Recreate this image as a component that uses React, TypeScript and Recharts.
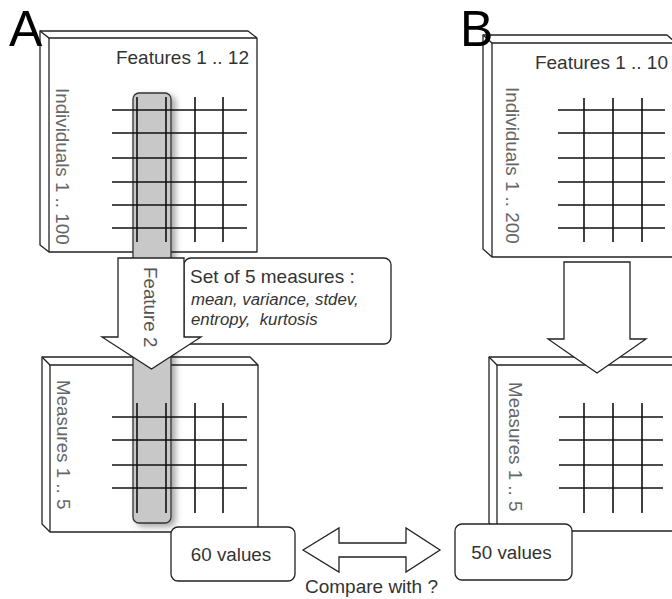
import React from 'react';
import { ComposedChart, XAxis, YAxis, ReferenceArea, ReferenceLine } from 'recharts';

const W = 672;
const H = 599;
const FONT = '"Liberation Sans", Arial, sans-serif';
const INK = '#222';

// what the figure says
const panelLetters = ['A', 'B'];
const featureCounts = [12, 10];
const individualCounts = [100, 200];
const measureCounts = [5, 5];
const measureNames = ['mean', 'variance', 'stdev', 'entropy', 'kurtosis'];
const valueCounts = [60, 50];
const chosenFeature = 2;

// grid rows / columns of the four matrices (reference pixels)
const topRows = [110, 133, 158, 182, 205, 228];
const bottomRows = [417, 440, 465, 488];
const colsA = [137, 166, 195, 223];
const colsB = [584, 613, 642];

const grids = [
  { rows: topRows, cols: colsA, xFrom: 112, xTo: 247, yFrom: 97, yTo: 242 },
  { rows: bottomRows, cols: colsA, xFrom: 112, xTo: 247, yFrom: 403, yTo: 513 },
  { rows: topRows, cols: colsB, xFrom: 558, xTo: 665, yFrom: 98, yTo: 242 },
  { rows: bottomRows, cols: colsB, xFrom: 559, xTo: 663, yFrom: 403, yTo: 513 },
];

// 3D boxes: back edge x1/y1, front face fx/fy, right x2, bottom y2
const panels = [
  { x1: 40, x2: 257, y1: 31, y2: 252, fx: 49, fy: 38, title: `Features 1 .. ${featureCounts[0]}`, side: `Individuals 1 .. ${individualCounts[0]}`, sx: 63, sy: 88 },
  { x1: 42, x2: 258, y1: 357, y2: 532, fx: 50, fy: 365, title: '', side: `Measures 1 .. ${measureCounts[0]}`, sx: 64, sy: 380 },
  { x1: 483, x2: 676, y1: 35, y2: 257, fx: 492, fy: 43, title: `Features 1 .. ${featureCounts[1]}`, side: `Individuals 1 .. ${individualCounts[1]}`, sx: 513, sy: 87 },
  { x1: 489, x2: 680, y1: 357, y2: 531, fx: 497, fy: 365, title: '', side: `Measures 1 .. ${measureCounts[1]}`, sx: 516, sy: 382 },
];

// down arrows: head x1..x2, top y1, tip y2, body bx1..bx2, head starts hy
const downArrows = [
  { x1: 102, x2: 201, y1: 258, y2: 369, bx1: 118, bx2: 184, hy: 337, label: `Feature ${chosenFeature}` },
  { x1: 548, x2: 646, y1: 262, y2: 373, bx1: 564, bx2: 630, hy: 339, label: '' },
];

const valueBoxes = [
  { x1: 171, x2: 295, y1: 527, y2: 581, text: `${valueCounts[0]} values` },
  { x1: 455, x2: 572, y1: 524, y2: 580, text: `${valueCounts[1]} values` },
];

const letters = [
  { x: 9, y: 46, text: panelLetters[0] },
  { x: 460, y: 46, text: panelLetters[1] },
];

const column = { x1: 133, x2: 171, y1: 93, y2: 523 };
const callout = { x1: 184, x2: 391, y1: 258, y2: 344 };
const twoWay = { x1: 303, x2: 440, y1: 528, y2: 572, nx1: 339, nx2: 406, by1: 543, by2: 557 };

// map reference-pixel coordinates of a spec into the area the chart gave us
const mapper = (p: any, s: { x1: number; x2: number; y1: number; y2: number }) => ({
  X: (v: number) => p.x + ((v - s.x1) / (s.x2 - s.x1)) * p.width,
  Y: (v: number) => p.y + ((v - s.y1) / (s.y2 - s.y1)) * p.height,
});

const panelShape = (s: any) => (p: any) => {
  const { X, Y } = mapper(p, s);
  const dx = s.fx - s.x1;
  const dy = s.fy - s.y1;
  const outline = [
    [X(s.x1), Y(s.y1)],
    [X(s.x2 - dx), Y(s.y1)],
    [X(s.x2), Y(s.fy)],
    [X(s.x2), Y(s.y2)],
    [X(s.fx), Y(s.y2)],
    [X(s.x1), Y(s.y2 - dy)],
  ].map((q) => q.join(',')).join(' ');
  return (
    <g>
      <polygon points={outline} fill="#fff" stroke={INK} strokeWidth={1.3} strokeLinejoin="round" />
      <polyline
        points={`${X(s.x1)},${Y(s.y1)} ${X(s.fx)},${Y(s.fy)} ${X(s.x2)},${Y(s.fy)}`}
        fill="none" stroke={INK} strokeWidth={1.3}
      />
      <line x1={X(s.fx)} y1={Y(s.fy)} x2={X(s.fx)} y2={Y(s.y2)} stroke={INK} strokeWidth={1.3} />
      {s.title && (
        <text x={X(s.x2) - 8} y={Y(s.fy) + 26} textAnchor="end" fontFamily={FONT} fontSize={19} fill="#333">
          {s.title}
        </text>
      )}
      <text
        transform={`translate(${X(s.sx)},${Y(s.sy)}) rotate(90)`}
        dy="0.35em" fontFamily={FONT} fontSize={18.8} fill="#666"
      >
        {s.side}
      </text>
    </g>
  );
};

const columnShape = (p: any) => (
  <g>
    <defs>
      <filter id="colShadow" x="-60%" y="-10%" width="220%" height="120%">
        <feDropShadow dx="4" dy="3" stdDeviation="3" floodColor="#000" floodOpacity="0.35" />
      </filter>
    </defs>
    <rect x={p.x} y={p.y} width={p.width} height={p.height} rx={6} ry={6}
      fill="#c8c8c8" stroke="#333" strokeWidth={1.3} filter="url(#colShadow)" />
  </g>
);

const calloutShape = (p: any) => (
  <g fontFamily={FONT}>
    <rect x={p.x} y={p.y} width={p.width} height={p.height} rx={7} ry={7} fill="#fff" stroke={INK} strokeWidth={1.3} />
    <text x={p.x + 6} y={p.y + 25} fontSize={19} fill="#333">{`Set of ${measureNames.length} measures :`}</text>
    <text x={p.x + 7} y={p.y + 47} fontSize={16.8} fontStyle="italic" fill="#333">
      {measureNames.slice(0, 3).join(', ') + ','}
    </text>
    <text x={p.x + 7} y={p.y + 67} fontSize={16.8} fontStyle="italic" fill="#333" style={{ whiteSpace: 'pre' }}>
      {measureNames.slice(3).join(',  ')}
    </text>
  </g>
);

const downArrowShape = (s: any) => (p: any) => {
  const { X, Y } = mapper(p, s);
  const pts = [
    [X(s.bx1), Y(s.y1)],
    [X(s.bx2), Y(s.y1)],
    [X(s.bx2), Y(s.hy)],
    [X(s.x2), Y(s.hy)],
    [X((s.x1 + s.x2) / 2), Y(s.y2)],
    [X(s.x1), Y(s.hy)],
    [X(s.bx1), Y(s.hy)],
  ].map((q) => q.join(',')).join(' ');
  const cx = X((s.bx1 + s.bx2) / 2);
  return (
    <g>
      <polygon points={pts} fill="#fff" stroke={INK} strokeWidth={1.3} strokeLinejoin="miter" />
      {s.label && (
        <text transform={`translate(${cx},${Y(s.y1) + 9}) rotate(90)`} dy="0.35em"
          fontFamily={FONT} fontSize={18.8} fill="#555">
          {s.label}
        </text>
      )}
    </g>
  );
};

const twoWayShape = (p: any) => {
  const s = twoWay;
  const { X, Y } = mapper(p, s);
  const mid = (s.y1 + s.y2) / 2;
  const pts = [
    [X(s.x1), Y(mid)],
    [X(s.nx1), Y(s.y1)],
    [X(s.nx1), Y(s.by1)],
    [X(s.nx2), Y(s.by1)],
    [X(s.nx2), Y(s.y1)],
    [X(s.x2), Y(mid)],
    [X(s.nx2), Y(s.y2)],
    [X(s.nx2), Y(s.by2)],
    [X(s.nx1), Y(s.by2)],
    [X(s.nx1), Y(s.y2)],
  ].map((q) => q.join(',')).join(' ');
  return (
    <g>
      <polygon points={pts} fill="#fff" stroke={INK} strokeWidth={1.3} />
      <text x={X((s.x1 + s.x2) / 2)} y={Y(s.y2) + 21} textAnchor="middle" fontFamily={FONT} fontSize={19} fill="#333">
        Compare with ?
      </text>
    </g>
  );
};

const valueBoxShape = (s: any) => (p: any) => (
  <g>
    <rect x={p.x} y={p.y} width={p.width} height={p.height} rx={7} ry={7} fill="#fff" stroke={INK} strokeWidth={1.3} />
    <text x={p.x + p.width / 2 - 2} y={p.y + p.height / 2} dy="0.36em" textAnchor="middle"
      fontFamily={FONT} fontSize={18.8} fill="#333">
      {s.text}
    </text>
  </g>
);

const letterShape = (s: any) => (p: any) => (
  <text x={p.x} y={p.y + p.height} fontFamily={FONT} fontSize={50} fill="#000">{s.text}</text>
);

export default function App() {
  return (
    <div style={{ position: 'absolute', left: 0, top: 0, width: W, height: H, background: '#fff' }}>
      <ComposedChart width={W} height={H} margin={{ top: 0, right: 0, bottom: 0, left: 0 }} data={[]}>
        <XAxis type="number" dataKey="x" domain={[0, W]} hide allowDataOverflow />
        <YAxis type="number" dataKey="y" domain={[0, H]} reversed hide allowDataOverflow />

        {panels.map((s, i) => (
          <ReferenceArea key={`p${i}`} x1={s.x1} x2={s.x2} y1={s.y1} y2={s.y2} ifOverflow="visible" shape={panelShape(s)} />
        ))}
        <ReferenceArea x1={column.x1} x2={column.x2} y1={column.y1} y2={column.y2} ifOverflow="visible" shape={columnShape} />
        <ReferenceArea x1={callout.x1} x2={callout.x2} y1={callout.y1} y2={callout.y2} ifOverflow="visible" shape={calloutShape} />
        {downArrows.map((s, i) => (
          <ReferenceArea key={`a${i}`} x1={s.x1} x2={s.x2} y1={s.y1} y2={s.y2} ifOverflow="visible" shape={downArrowShape(s)} />
        ))}
        {valueBoxes.map((s, i) => (
          <ReferenceArea key={`v${i}`} x1={s.x1} x2={s.x2} y1={s.y1} y2={s.y2} ifOverflow="visible" shape={valueBoxShape(s)} />
        ))}
        <ReferenceArea x1={twoWay.x1} x2={twoWay.x2} y1={twoWay.y1} y2={twoWay.y2} ifOverflow="visible" shape={twoWayShape} />
        {letters.map((s, i) => (
          <ReferenceArea key={`l${i}`} x1={s.x} x2={s.x + 1} y1={s.y - 1} y2={s.y} ifOverflow="visible" shape={letterShape(s)} />
        ))}

        {grids.flatMap((g, gi) => [
          ...g.rows.map((y, i) => (
            <ReferenceLine key={`r${gi}-${i}`} segment={[{ x: g.xFrom, y }, { x: g.xTo, y }]}
              stroke="#111" strokeWidth={1.6} ifOverflow="visible" />
          )),
          ...g.cols.map((x, i) => (
            <ReferenceLine key={`c${gi}-${i}`} segment={[{ x, y: g.yFrom }, { x, y: g.yTo }]}
              stroke="#111" strokeWidth={1.6} ifOverflow="visible" />
          )),
        ])}
      </ComposedChart>
    </div>
  );
}
